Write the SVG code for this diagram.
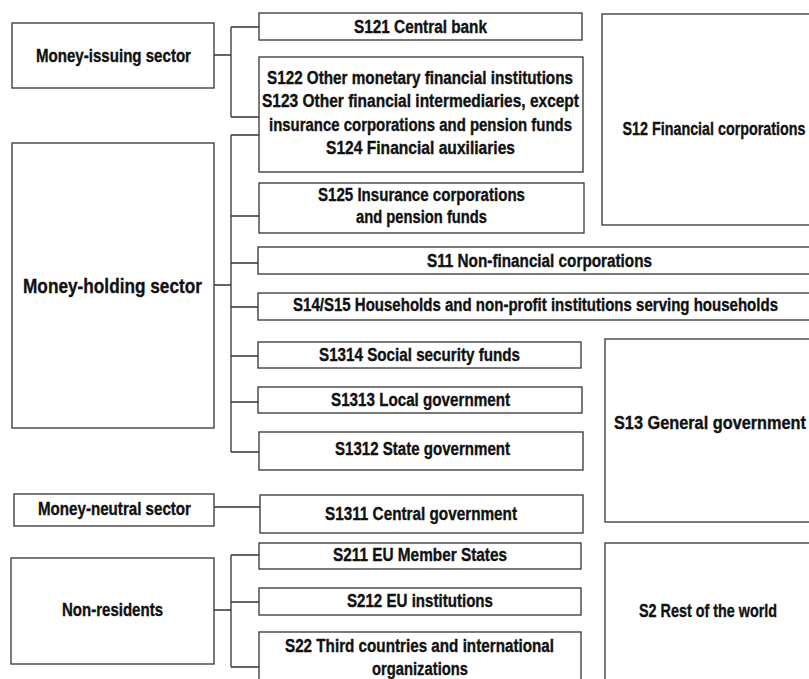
<svg xmlns="http://www.w3.org/2000/svg" width="809" height="679" viewBox="0 0 809 679">
<style>
.b{fill:#fff;stroke:#333;stroke-width:1.3}
.c{fill:none;stroke:#333;stroke-width:1.3}
text{font-family:"Liberation Sans Narrow","Arial Narrow","Liberation Sans",Arial,sans-serif;font-weight:bold;font-size:18px;fill:#111;stroke:#111;stroke-width:0.35;text-anchor:middle}
.big{font-size:21px}
</style>
<rect width="809" height="679" fill="#fff"/>
<g id="connectors">
<path class="c" d="M214,55H231M231,27V117M231,27H259M231,117H259"/>
<path class="c" d="M214,285H231M231,135V452M231,135H259M231,216H259M231,263H258M231,307H258M231,356H258M231,402H258M231,452H259"/>
<path class="c" d="M214,507H260"/>
<path class="c" d="M214,610H231M231,555V667M231,555H259M231,602H259M231,667H259"/>
</g>
<g id="money-issuing"><rect class="b" x="12" y="23" width="202" height="65"/><text x="113.5" y="61.5" textLength="155" lengthAdjust="spacingAndGlyphs">Money-issuing sector</text></g>
<g id="money-holding"><rect class="b" x="12" y="143" width="202" height="285"/><text class="big" x="112.5" y="292.5" textLength="179" lengthAdjust="spacingAndGlyphs">Money-holding sector</text></g>
<g id="money-neutral"><rect class="b" x="14" y="494" width="200" height="32"/><text x="114.5" y="515" textLength="153" lengthAdjust="spacingAndGlyphs">Money-neutral sector</text></g>
<g id="non-residents"><rect class="b" x="11" y="558" width="203" height="106"/><text x="112.5" y="616" textLength="101" lengthAdjust="spacingAndGlyphs">Non-residents</text></g>
<g id="s121"><rect class="b" x="259" y="13" width="323" height="27"/><text x="420.5" y="32.5" textLength="133" lengthAdjust="spacingAndGlyphs">S121 Central bank</text></g>
<g id="s122"><rect class="b" x="259" y="57" width="324" height="115"/>
<text x="420" y="84" textLength="306" lengthAdjust="spacingAndGlyphs">S122 Other monetary financial institutions</text>
<text x="420.5" y="107.3" textLength="317" lengthAdjust="spacingAndGlyphs">S123 Other financial intermediaries, except</text>
<text x="420.5" y="130.6" textLength="303" lengthAdjust="spacingAndGlyphs">insurance corporations and pension funds</text>
<text x="420.5" y="154" textLength="189" lengthAdjust="spacingAndGlyphs">S124 Financial auxiliaries</text></g>
<g id="s125"><rect class="b" x="259" y="183" width="325" height="50"/>
<text x="421.5" y="200.5" textLength="207" lengthAdjust="spacingAndGlyphs">S125 Insurance corporations</text>
<text x="421.5" y="222.5" textLength="131" lengthAdjust="spacingAndGlyphs">and pension funds</text></g>
<g id="s11"><rect class="b" x="258" y="247" width="552" height="27"/><text x="539.5" y="266.5" textLength="225" lengthAdjust="spacingAndGlyphs">S11 Non-financial corporations</text></g>
<g id="s14s15"><rect class="b" x="258" y="293" width="552" height="27"/><text x="535.5" y="311" textLength="485" lengthAdjust="spacingAndGlyphs">S14/S15 Households and non-profit institutions serving households</text></g>
<g id="s1314"><rect class="b" x="258" y="342" width="323" height="26"/><text x="419.5" y="360.5" textLength="201" lengthAdjust="spacingAndGlyphs">S1314 Social security funds</text></g>
<g id="s1313"><rect class="b" x="258" y="387" width="324" height="26"/><text x="420.5" y="405.5" textLength="179" lengthAdjust="spacingAndGlyphs">S1313 Local government</text></g>
<g id="s1312"><rect class="b" x="259" y="432" width="324" height="38"/><text x="422.5" y="455" textLength="175" lengthAdjust="spacingAndGlyphs">S1312 State government</text></g>
<g id="s1311"><rect class="b" x="260" y="495" width="323" height="38"/><text x="421" y="520" textLength="192" lengthAdjust="spacingAndGlyphs">S1311 Central government</text></g>
<g id="s211"><rect class="b" x="259" y="543" width="322" height="26"/><text x="420" y="561" textLength="174" lengthAdjust="spacingAndGlyphs">S211 EU Member States</text></g>
<g id="s212"><rect class="b" x="259" y="588" width="322" height="27"/><text x="420" y="606.5" textLength="146" lengthAdjust="spacingAndGlyphs">S212 EU institutions</text></g>
<g id="s22"><rect class="b" x="259" y="632" width="322" height="60"/>
<text x="419.5" y="651.5" textLength="269" lengthAdjust="spacingAndGlyphs">S22 Third countries and international</text>
<text x="420" y="675" textLength="96" lengthAdjust="spacingAndGlyphs">organizations</text></g>
<g id="s12"><rect class="b" x="602" y="14" width="208" height="211"/><text x="714" y="135" textLength="183" lengthAdjust="spacingAndGlyphs">S12 Financial corporations</text></g>
<g id="s13"><rect class="b" x="605" y="339" width="205" height="183"/><text x="710" y="428.5" textLength="192" lengthAdjust="spacingAndGlyphs">S13 General government</text></g>
<g id="s2"><rect class="b" x="605" y="543" width="205" height="150"/><text x="708" y="616.5" textLength="138" lengthAdjust="spacingAndGlyphs">S2 Rest of the world</text></g>
</svg>
